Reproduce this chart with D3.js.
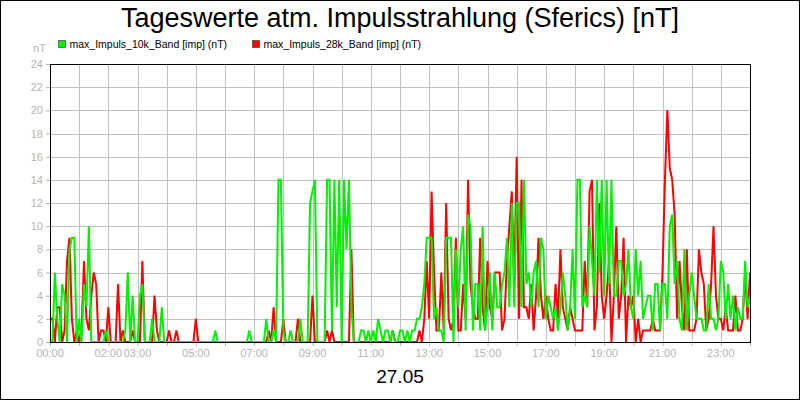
<!DOCTYPE html>
<html><head><meta charset="utf-8">
<script src="https://cdn.jsdelivr.net/npm/d3@7"></script>
<style>body{margin:0;background:#fff}svg{display:block;font-family:Arial,"Liberation Sans",sans-serif}</style>
</head><body><svg id="c" width="800" height="400"></svg>
<script>
const title = "Tageswerte atm. Impulsstrahlung (Sferics) [nT]";
const dateLabel = "27.05";
const seriesNames = ["max_Impuls_10k_Band [imp] (nT)", "max_Impuls_28k_Band [imp] (nT)"];
const stepMinutes = 5;
const yTicks = [0,2,4,6,8,10,12,14,16,18,20,22,24];
const xTickHours = [0,1,2,3,4,5,6,7,8,9,10,11,12,13,14,15,16,17,18,19,20,21,22,23,24];
const xLabelHours = [0,2,3,5,7,9,11,13,15,17,19,21,23];
// 5-minute values, 00:00 .. 24:00
const green10k = [
 0,0,6,2,0,5,4,0,8,9,9,0,
 2,0,5,3,10,0,0,0,0,0,0,1,
 0,0,0,0,0,0,0,1,6,0,4,0,
 0,4,5,0,0,0,2,0,0,0,3,0,
 0,0,0,0,0,0,0,0,0,0,0,0,
 0,0,0,0,0,0,0,0,1,0,0,0,
 0,0,0,0,0,0,0,0,0,0,1,0,
 0,0,0,0,0,2,0,0,1,0,14,14,
 1,0,0,1,0,0,0,2,0,0,0,12,
 13,14,0,0,0,0,14,14,1,14,3,14,
 0,14,8,14,3,0,0,0,1,1,0,1,
 0,1,0,2,1,0,1,1,0,1,0,0,
 1,1,0,1,0,1,1,2,2,3,5,9,
 9,9,2,3,1,1,0,9,9,9,0,8,
 3,8,10,1,11,10,1,5,5,1,10,1,
 3,6,1,6,3,3,5,6,9,3,12,3,
 12,12,3,14,5,6,3,6,7,3,9,8,
 2,4,3,2,3,1,3,6,4,1,3,8,
 2,14,14,3,4,3,10,7,4,14,6,14,
 4,14,5,14,4,4,7,7,4,5,8,3,
 2,8,4,7,2,3,4,4,1,5,5,1,
 5,5,2,10,11,5,7,2,1,8,1,4,
 6,4,2,2,2,1,1,5,2,2,1,2,
 7,6,2,5,2,4,1,3,2,2,7,3,
 4];
const red28k = [
 2,2,0,3,3,0,1,7,9,2,0,1,
 0,1,7,2,1,4,6,5,0,1,1,0,
 3,0,0,0,5,0,1,0,0,0,1,0,
 0,0,7,0,0,0,0,4,1,0,0,0,
 0,1,0,0,1,0,0,0,0,0,0,0,
 2,0,0,0,0,0,0,0,0,0,0,0,
 0,0,0,0,0,0,0,0,0,0,0,0,
 0,0,0,0,0,0,1,0,3,0,0,0,
 2,0,0,0,0,0,2,0,0,0,0,0,
 4,0,0,0,0,0,1,0,1,0,0,0,
 0,0,0,0,8,0,0,0,0,0,0,0,
 0,0,0,0,0,0,0,0,0,1,0,0,
 0,0,0,0,0,0,0,0,1,0,2,7,
 2,13,6,1,1,6,1,12,2,1,2,9,
 1,1,5,2,14,5,3,2,2,9,3,1,
 7,3,2,6,6,6,1,2,7,10,13,5,
 16,2,14,3,3,2,5,1,4,9,4,2,
 4,2,1,1,5,2,8,3,2,1,3,2,
 1,1,1,1,7,3,13,14,1,3,12,4,
 2,4,7,0,4,10,2,4,9,0,4,3,
 4,0,2,0,1,1,1,1,2,1,1,1,
 6,14,20,15,14,11,2,7,3,1,8,1,
 1,1,2,8,6,5,1,2,5,10,4,2,
 2,1,3,1,1,1,4,1,1,2,6,2,
 6];

const svg = d3.select("#c");
const W = 800, H = 400;
const m = {left: 50, right: 750, top: 64, bottom: 342};
const gridCol = "#c0c0c0", labelCol = "#b4b4b4";

svg.append("rect").attr("x",0).attr("y",0).attr("width",W).attr("height",H).attr("fill","#fff");

const x = d3.scaleLinear().domain([0,24]).range([m.left, m.right]);
const y = d3.scaleLinear().domain([0,24]).range([m.bottom, m.top]);

// grid
const g = svg.append("g");
g.selectAll("line.h").data(yTicks.filter(v=>v>0 && v<24)).join("line")
  .attr("x1", m.left).attr("x2", m.right)
  .attr("y1", d=>Math.round(y(d))+0.5).attr("y2", d=>Math.round(y(d))+0.5)
  .attr("stroke", gridCol).attr("stroke-width",1);
g.selectAll("line.v").data(xTickHours.filter(v=>v>0 && v<24)).join("line")
  .attr("y1", m.top).attr("y2", m.bottom)
  .attr("x1", d=>Math.round(x(d))+0.5).attr("x2", d=>Math.round(x(d))+0.5)
  .attr("stroke", gridCol).attr("stroke-width",1);

// axes
const yAxis = d3.axisLeft(y).tickValues(yTicks).tickSize(4).tickPadding(3).tickFormat(d3.format("d"));
const ya = svg.append("g").attr("transform",`translate(${m.left},0)`).call(yAxis);
ya.select(".domain").remove();
ya.selectAll("line").attr("stroke", labelCol);
ya.selectAll("text").attr("fill", labelCol).attr("font-size", 11).attr("font-family","Arial, 'Liberation Sans', sans-serif");

const xAxis = d3.axisBottom(x).tickValues(xTickHours).tickSize(4).tickFormat(()=>"");
const xa = svg.append("g").attr("transform",`translate(0,${m.bottom})`).call(xAxis);
xa.select(".domain").remove();
xa.selectAll("line").attr("stroke", labelCol);
svg.append("g").selectAll("text").data(xLabelHours).join("text")
  .attr("x", d=>x(d)).attr("y", 357).attr("text-anchor","middle")
  .attr("fill", labelCol).attr("font-size", 11)
  .text(d=>String(d).padStart(2,"0")+":00");

svg.append("text").attr("x", 46).attr("y", 52).attr("text-anchor","end")
  .attr("fill", labelCol).attr("font-size", 11).text("nT");

// data lines
const defs = svg.append("defs");
defs.append("clipPath").attr("id","clip").append("rect")
  .attr("x", m.left).attr("y", m.top-2).attr("width", m.right-m.left).attr("height", m.bottom-m.top+2);
const line = d3.line().x((d,i)=>x(i*stepMinutes/60)).y(d=>y(d));
const plot = svg.append("g").attr("clip-path","url(#clip)");
plot.append("path").datum(red28k).attr("d", line).attr("fill","none")
  .attr("stroke","#ff0000").attr("stroke-width",2).attr("stroke-linejoin","miter");
plot.append("path").datum(green10k).attr("d", line).attr("fill","none")
  .attr("stroke","#00f000").attr("stroke-width",2).attr("stroke-linejoin","miter");

// frame
svg.append("rect").attr("x", m.left+0.5).attr("y", m.top+0.5)
  .attr("width", m.right-m.left).attr("height", m.bottom-m.top)
  .attr("fill","none").attr("stroke","#000").attr("stroke-width",1);

// title
svg.append("text").attr("x", 400).attr("y", 27).attr("text-anchor","middle")
  .attr("font-size", 27).attr("fill","#000").text(title);

// legend
const legCols = ["#00f000", "#ff0000"];
const legX = [58.5, 252.5];
const leg = svg.append("g").selectAll("g").data(seriesNames).join("g")
  .attr("transform",(d,i)=>`translate(${legX[i]},40.5)`);
leg.append("rect").attr("width",7).attr("height",7).attr("fill",(d,i)=>legCols[i])
  .attr("stroke","#333").attr("stroke-width",0.6);
leg.append("text").attr("x",11).attr("y",7.5).attr("font-size",10.5).attr("fill","#000").text(d=>d);

// date
svg.append("text").attr("x", 400).attr("y", 383).attr("text-anchor","middle")
  .attr("font-size", 19).attr("fill","#000").text(dateLabel);

// outer border
svg.append("rect").attr("x",0.5).attr("y",0.5).attr("width",W-1).attr("height",H-1)
  .attr("fill","none").attr("stroke","#000").attr("stroke-width",1);
</script></body></html>
